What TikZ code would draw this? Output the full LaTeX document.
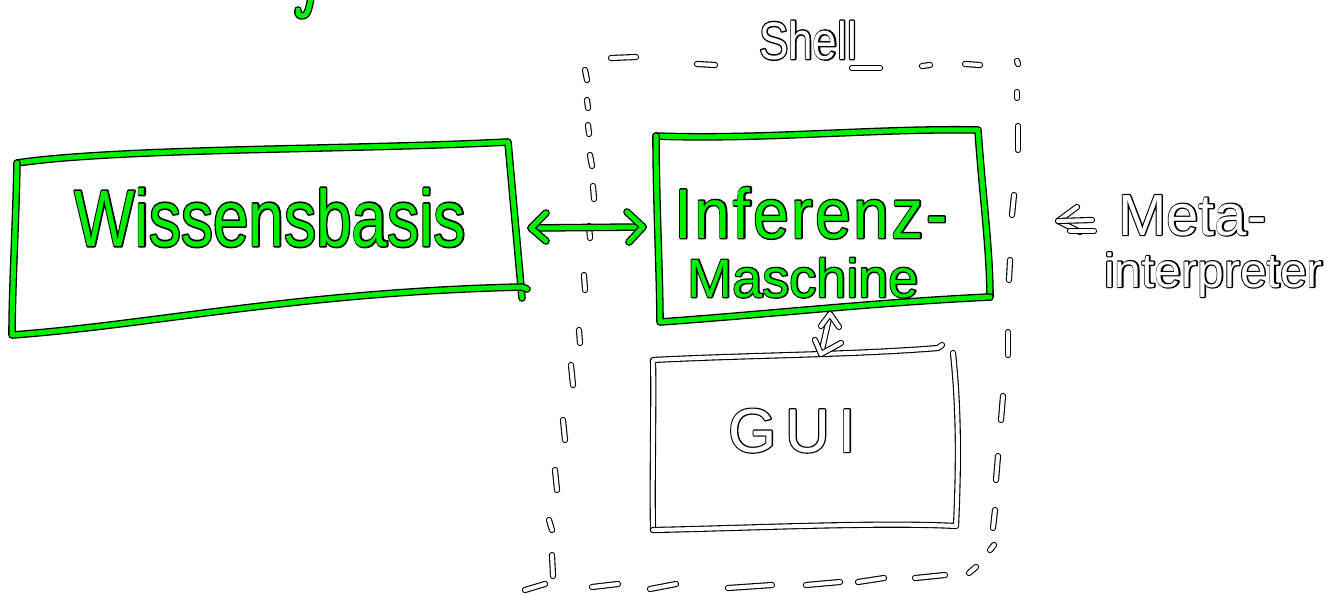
\documentclass[tikz,border=0pt]{standalone}
\usepackage{fontspec}
\setmainfont{Liberation Sans}
\newfontfamily\widefont[LetterSpace=14]{Liberation Sans}
\newfontfamily\midfont[LetterSpace=4]{Liberation Sans}
\definecolor{ink}{RGB}{0,240,0}

\tikzset{
  gline/.style={draw=black, line width=1.3pt, double=ink, double distance=5pt,
                line cap=round, line join=round},
  wline/.style={draw=black, line width=1.1pt, double=white, double distance=4pt,
                line cap=round, line join=round},
  label/.style={inner sep=0pt, anchor=base},
}
% text with a black rim: a stroked black copy (PDF render mode 2) under a filled copy
\newcommand{\rimmed}[3]{%
  \rlap{\color{black}\special{pdf:literal direct #2 w 1 j 2 Tr}#3%
        \special{pdf:literal direct 0 Tr}}%
  {\color{#1}#3}}
\newcommand{\greenword}[1]{\rimmed{ink}{2.6}{#1}}
\newcommand{\whiteword}[1]{\rimmed{white}{2.4}{#1}}

\begin{document}
\begin{tikzpicture}[x=1pt,y=-1pt]
\path[use as bounding box, fill=white] (0,0) rectangle (1331,595);

% stray green hook at the top edge
\draw[gline] (311,-3) .. controls (309,10) and (307,17) .. (301,16)
             .. controls (298,15) and (297,12) .. (298,10);

% ---------- Shell: dashed frame (top, right, bottom, left) ----------
\foreach \xa/\ya/\xb/\yb in {
  585/70/587/80, 611/58/636/57, 697/64/715/65,
  852/68/880/68, 922/66/930/65, 965/64/980/65,
  1017/61/1018/64,
  1017/92/1017/98, 1018/126/1018/150, 1014/195/1012/215,
  1010/260/1009/280, 1008/332/1008/355, 1003/396/1001/420,
  998/456/996/480, 995/510/993/528, 994/545/990/550,
  976/567/969/573,
  945/575/915/578, 884/578/858/582, 840/582/806/585,
  772/585/728/588, 676/584/650/589, 618/584/592/587,
  545/584/525/590,
  553/576/552/555, 552/530/549/520, 557/490/555/470,
  565/440/563/420, 573/385/571/365, 580/343/579/330,
  585/290/584/275, 590/238/589/226, 594/199/593/186,
  592/166/590/155, 589/134/588/125, 588/108/587/100%
}{
  \draw[wline] (\xa,\ya) -- (\xb,\yb);
}
\node[label] (shell) at (808,59)
  {\fontsize{44}{44}\selectfont\scalebox{1}[1.2]{\whiteword{Shell}}};

% ---------- Wissensbasis ----------
\coordinate (wbTL) at (17,163);
\coordinate (wbTR) at (508,142);
\coordinate (wbBR) at (522,287);
\coordinate (wbBL) at (12,335);
\draw[gline] (wbTL) .. controls (120,148) and (350,150) .. (wbTR) -- (522,298);
\draw[gline] (wbTL) .. controls (16,220) and (12,290) .. (wbBL)
             .. controls (150,325) and (300,292) .. (wbBR) -- (527,289);
\node[label] (wb) at (270,246)
  {\fontsize{64}{64}\selectfont\scalebox{1}[1.25]{\greenword{Wissensbasis}}};

% ---------- Inferenz-Maschine ----------
\coordinate (imTL) at (656,136);
\coordinate (imTR) at (978,130);
\coordinate (imBR) at (990,297);
\coordinate (imBL) at (660,322);
\draw[gline] (imTL) .. controls (760,140) and (880,128) .. (imTR)
             .. controls (982,190) and (990,250) .. (imBR);
\draw[gline] (imTL) .. controls (656,200) and (660,280) .. (imBL)
             .. controls (760,315) and (880,302) .. (imBR);
\node[label] (inf) at (811,238)
  {\fontsize{64}{64}\selectfont\midfont\scalebox{1}[1.1]{\greenword{Inferenz-}}};
\node[label] (masch) at (803,297)
  {\fontsize{54}{54}\selectfont\greenword{Maschine}};

% ---------- GUI ----------
\coordinate (guTL) at (653,360);
\coordinate (guTR) at (938,348);
\coordinate (guBR) at (956,526);
\coordinate (guBL) at (653,530);
\draw[wline] (guBL) .. controls (652,480) and (654,400) .. (guTL)
             .. controls (750,355) and (850,355) .. (guTR) -- (942,345);
\draw[wline] (953,353) .. controls (960,420) and (958,480) .. (guBR)
             .. controls (880,522) and (750,528) .. (guBL);
\node[label] (gui) at (792,452)
  {\fontsize{62}{62}\selectfont\widefont\whiteword{GUI}};

% ---------- Meta-interpreter ----------
\node[label, anchor=base west] (meta) at (1118,235)
  {\fontsize{58}{58}\selectfont\whiteword{Meta-}};
\node[label, anchor=base west] (interp) at (1104,287)
  {\fontsize{48}{48}\selectfont\whiteword{interpreter}};

% ---------- connectors ----------
\coordinate (wbE) at (531,228);
\coordinate (imW) at (643,227);
\draw[gline] (wbE) -- (imW);
\draw[gline] (wbE) ++(15,-15) -- (wbE) -- ++(15,13);
\draw[gline] (imW) ++(-16,-15) -- (imW) -- ++(-14,15);

\coordinate (imS) at (830,314);
\coordinate (guN) at (821,354);
\draw[wline] (imS) -- (guN);
\draw[wline] (imS) ++(-9,12) -- (imS) -- ++(9,13);
\draw[wline] (guN) ++(-6,-14) -- (guN) -- ++(20,-11);

\coordinate (metaTip) at (1058,221);
\draw[wline] (metaTip) ++(19,-14) -- (metaTip) -- ++(22,11);
\draw[wline] (metaTip) -- ++(34,-1);
\draw[wline] (1070,231) -- (1094,231);
\end{tikzpicture}
\end{document}
